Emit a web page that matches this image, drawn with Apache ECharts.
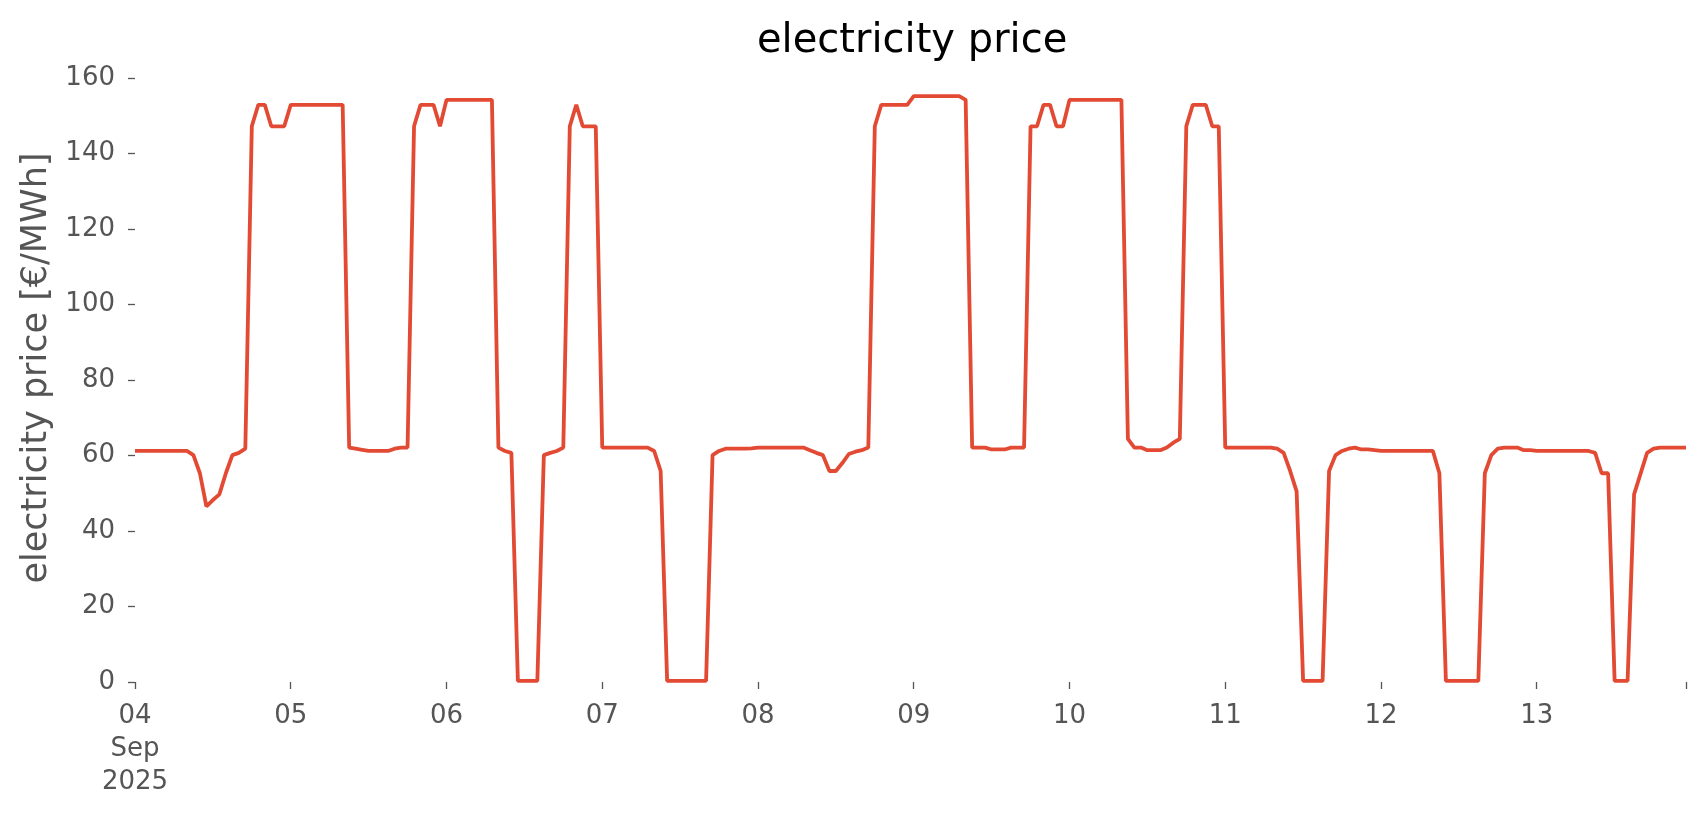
<!DOCTYPE html>
<html>
<head>
<meta charset="utf-8">
<script src="https://cdn.jsdelivr.net/npm/echarts@6/dist/echarts.min.js"></script>
<style>
html,body{margin:0;padding:0;background:#fff;}
#chart{width:1706px;height:815px;}
</style>
</head>
<body>
<div id="chart"></div>
<script>
// Hourly electricity price [€/MWh], one array per day (Sep 2025), hours 00..23
const p04 = [61.2,61.2,61.2,61.2,61.2,61.2,61.2,61.2,61.2,60.1,55.3,46.5,48.2,49.7,55.3,60.1,60.7,61.8,147.2,152.9,152.9,147.2,147.2,147.2];
const p05 = [152.9,152.9,152.9,152.9,152.9,152.9,152.9,152.9,152.9,62.1,61.8,61.5,61.2,61.2,61.2,61.2,61.8,62.1,62.1,147.2,152.9,152.9,152.9,147.2];
const p06 = [154.2,154.2,154.2,154.2,154.2,154.2,154.2,154.2,62.1,61.2,60.7,0.3,0.3,0.3,0.3,60.1,60.7,61.2,62.1,147.2,152.9,147.2,147.2,147.2];
const p07 = [62.1,62.1,62.1,62.1,62.1,62.1,62.1,62.1,61.2,55.9,0.3,0.3,0.3,0.3,0.3,0.3,0.3,60.1,61.2,61.8,61.8,61.8,61.8,61.9];
const p08 = [62.1,62.1,62.1,62.1,62.1,62.1,62.1,62.1,61.4,60.7,60.1,55.9,55.9,58.0,60.4,61.0,61.4,62.1,147.2,152.9,152.9,152.9,152.9,152.9];
const p09 = [155.2,155.2,155.2,155.2,155.2,155.2,155.2,155.2,154.2,62.1,62.1,62.1,61.6,61.6,61.6,62.1,62.1,62.1,147.2,147.2,152.9,152.9,147.2,147.2];
const p10 = [154.2,154.2,154.2,154.2,154.2,154.2,154.2,154.2,154.2,64.4,62.1,62.1,61.4,61.4,61.4,62.1,63.4,64.4,147.2,152.9,152.9,152.9,147.2,147.2];
const p11 = [62.1,62.1,62.1,62.1,62.1,62.1,62.1,62.1,61.8,60.7,55.9,50.5,0.3,0.3,0.3,0.3,55.9,60.1,61.2,61.8,62.1,61.6,61.6,61.4];
const p12 = [61.2,61.2,61.2,61.2,61.2,61.2,61.2,61.2,61.2,55.3,0.3,0.3,0.3,0.3,0.3,0.3,55.3,60.1,61.8,62.1,62.1,62.1,61.4,61.4];
const p13 = [61.2,61.2,61.2,61.2,61.2,61.2,61.2,61.2,61.2,60.7,55.3,55.3,0.3,0.3,0.3,49.7,55.2,60.7,61.8,62.1,62.1,62.1,62.1,62.1];

const dayLabels = ['04','05','06','07','08','09','10','11','12','13'];
const firstLabel = '04\nSep\n2025';
const yTicks = [0,20,40,60,80,100,120,140,160];

const dayArrays = [p04,p05,p06,p07,p08,p09,p10,p11,p12,p13];
const categories = [];
const values = [];
dayArrays.forEach((arr, d) => {
  arr.forEach((v, h) => {
    categories.push('2025-09-' + dayLabels[d] + ' ' + String(h).padStart(2,'0') + ':00');
    values.push(v);
  });
});
const lastIdx = categories.length - 1;

const FONT = 'DejaVu Sans';
const chart = echarts.init(document.getElementById('chart'));
chart.setOption({
  animation: false,
  backgroundColor: '#ffffff',
  title: {
    text: 'electricity price',
    left: 757,
    top: 22,
    padding: 0,
    textStyle: {fontFamily: FONT, fontSize: 40, fontWeight: 'normal', color: '#000000'}
  },
  grid: {left: 135, right: 20, top: 78, bottom: 133, containLabel: false, outerBoundsMode: 'none'},
  xAxis: {
    type: 'category',
    data: categories,
    boundaryGap: false,
    axisLine: {show: false},
    axisTick: {
      show: true, length: 7,
      interval: (i) => i % 24 === 0 || i === lastIdx,
      lineStyle: {color: '#555555', width: 1.3}
    },
    axisLabel: {
      interval: (i) => i % 24 === 0,
      margin: 18,
      color: '#555555',
      fontFamily: FONT,
      fontSize: 26,
      lineHeight: 33,
      formatter: (val, i) => i === 0 ? firstLabel : dayLabels[Math.floor(i / 24)]
    },
    splitLine: {show: false}
  },
  yAxis: {
    type: 'value',
    min: yTicks[0],
    max: yTicks[yTicks.length - 1],
    interval: 20,
    name: 'electricity price [€/MWh]',
    nameLocation: 'middle',
    nameGap: 81,
    nameTextStyle: {fontFamily: FONT, fontSize: 35, color: '#555555', padding: [0, 0, 0, 24]},
    axisLine: {show: false},
    axisTick: {show: true, length: 7, lineStyle: {color: '#555555', width: 1.3}},
    axisLabel: {color: '#555555', fontFamily: FONT, fontSize: 26, margin: 20},
    splitLine: {show: false}
  },
  series: [{
    type: 'line',
    data: values,
    showSymbol: false,
    symbol: 'none',
    lineStyle: {color: '#E24A33', width: 3.8},
    itemStyle: {color: '#E24A33'}
  }]
});
</script>
</body>
</html>
